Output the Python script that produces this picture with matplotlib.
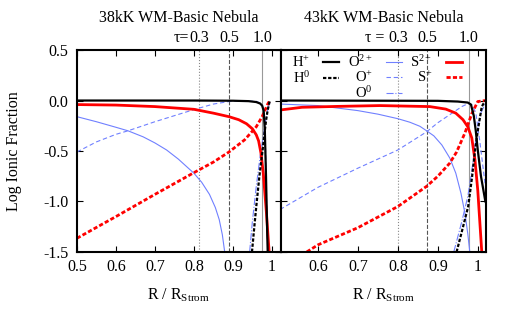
"""
Log ionic fraction profiles for two WM-Basic nebula models
"""
import matplotlib
matplotlib.use("Agg")
import matplotlib.pyplot as plt
from matplotlib.lines import Line2D

plt.rcParams['font.family'] = ['Liberation Serif', 'DejaVu Serif']
plt.rcParams['mathtext.fontset'] = 'custom'
plt.rcParams['mathtext.rm'] = 'Liberation Serif'
plt.rcParams['mathtext.it'] = 'Liberation Serif:italic'
plt.rcParams['font.size'] = 11.5

# ---- 38kK model ----
r38_hp = [0.5, 0.8, 0.9, 0.94, 0.96, 0.97, 0.975, 0.979, 0.982, 0.985, 0.988, 0.990]
f38_hp = [0.0, 0.0, -0.002, -0.006, -0.015, -0.03, -0.05, -0.1, -0.3, -0.75, -1.3, -1.6]
r38_h0 = [0.949, 0.955, 0.96, 0.968, 0.976, 0.981, 0.985, 0.989, 0.993, 0.995]
f38_h0 = [-1.5, -1.25, -1.05, -0.75, -0.5, -0.33, -0.2, -0.1, -0.03, 0.0]
r38_o2 = [0.5, 0.55, 0.6, 0.631, 0.67, 0.7, 0.73, 0.76, 0.78, 0.8, 0.82, 0.84,
          0.855, 0.865, 0.873, 0.879]
f38_o2 = [-0.16, -0.21, -0.265, -0.30, -0.36, -0.42, -0.49, -0.58, -0.65, -0.72,
          -0.81, -0.93, -1.06, -1.18, -1.33, -1.5]
r38_o1 = [0.5, 0.55, 0.6, 0.631, 0.7, 0.75, 0.8, 0.85, 0.89, 0.93, 0.96, 0.97,
          0.976, 0.98, 0.984, 0.987, 0.99]
f38_o1 = [-0.51, -0.41, -0.335, -0.30, -0.21, -0.15, -0.09, -0.035, -0.01, -0.004,
          -0.008, -0.025, -0.05, -0.15, -0.5, -1.1, -1.6]
r38_o0 = [0.943, 0.95, 0.96, 0.97, 0.978, 0.985, 0.99, 0.995]
f38_o0 = [-1.5, -1.2, -0.85, -0.55, -0.35, -0.18, -0.08, -0.02]
r38_s2 = [0.5, 0.6, 0.7, 0.8, 0.85, 0.89, 0.915, 0.935, 0.95, 0.96, 0.966, 0.972,
          0.978, 0.986, 0.993]
f38_s2 = [-0.04, -0.045, -0.06, -0.087, -0.125, -0.16, -0.19, -0.23, -0.28, -0.34,
          -0.40, -0.52, -0.72, -1.11, -1.5]
r38_s1 = [0.5, 0.6, 0.7, 0.8, 0.85, 0.89, 0.93, 0.96, 0.975, 0.99, 0.995]
f38_s1 = [-1.365, -1.15, -0.93, -0.715, -0.61, -0.51, -0.39, -0.26, -0.16, -0.03, 0.0]
tau38 = [0.813, 0.89, 0.975]

# ---- 43kK model ----
r43_hp = [0.505, 0.9, 0.95, 0.975, 0.983, 0.99, 0.995, 1.0, 1.008, 1.019]
f43_hp = [0.0, -0.003, -0.01, -0.02, -0.04, -0.15, -0.3, -0.49, -0.75, -1.0]
r43_h0 = [0.947, 0.96, 0.976, 0.985, 0.993, 1.0, 1.005, 1.01, 1.019]
f43_h0 = [-1.5, -1.3, -1.05, -0.78, -0.5, -0.3, -0.18, -0.06, 0.0]
r43_o2 = [0.505, 0.6, 0.7, 0.75, 0.8, 0.83, 0.855, 0.872, 0.89, 0.91, 0.93, 0.945,
          0.958, 0.968, 0.975, 0.98]
f43_o2 = [-0.035, -0.05, -0.1, -0.135, -0.18, -0.215, -0.255, -0.30, -0.35, -0.44,
          -0.57, -0.72, -0.92, -1.12, -1.32, -1.5]
r43_o1 = [0.505, 0.6, 0.7, 0.8, 0.872, 0.9, 0.93, 0.96, 0.976, 0.985, 0.995,
          1.005, 1.019]
f43_o1 = [-1.08, -0.86, -0.67, -0.49, -0.31, -0.22, -0.14, -0.06, -0.03, -0.04,
          -0.12, -0.4, -0.85]
r43_o0 = [0.94, 0.96, 0.975, 0.985, 0.993, 1.0, 1.008, 1.019]
f43_o0 = [-1.5, -1.2, -0.95, -0.7, -0.45, -0.27, -0.12, -0.03]
r43_s2 = [0.505, 0.56, 0.65, 0.755, 0.88, 0.92, 0.945, 0.963, 0.975, 0.985, 0.993,
          1.0, 1.01]
f43_s2 = [-0.094, -0.067, -0.058, -0.05, -0.06, -0.085, -0.125, -0.19, -0.26,
          -0.37, -0.59, -0.89, -1.5]
r43_s1 = [0.572, 0.6, 0.7, 0.8, 0.872, 0.9, 0.93, 0.947, 0.968, 0.985, 1.0, 1.019]
f43_s1 = [-1.5, -1.43, -1.26, -1.05, -0.85, -0.75, -0.62, -0.51, -0.32, -0.13,
          -0.01, 0.0]
tau43 = [0.8, 0.873, 0.977]

tau_labels = ['0.3', '0.5', '1.0']
titles = ['38kK WM-Basic Nebula', '43kK WM-Basic Nebula']

BLUE = '#7080ff'
RED = '#ff0000'


def draw_panel(ax, data, tau, xlim, xticks, tau_prefix, prefix_off):
    (rhp, fhp, rh0, fh0, ro2, fo2, ro1, fo1, ro0, fo0, rs2, fs2, rs1, fs1) = data
    for x, ls, c in zip(tau, [':', '--', '-'], ['#888888', '#555555', '#999999']):
        ax.axvline(x, color=c, ls=ls, lw=0.8, zorder=1)
    ax.plot(ro2, fo2, color=BLUE, lw=0.8, label=r'O$^{2+}$')
    ax.plot(ro1, fo1, color=BLUE, lw=0.8, dashes=(4, 2.5), label=r'O$^{+}$')
    ax.plot(ro0, fo0, color=BLUE, lw=0.8, ls='-.', label=r'O$^{0}$')
    ax.plot(rs2, fs2, color=RED, lw=2.0, label=r'S$^{2+}$')
    ax.plot(rs1, fs1, color=RED, lw=2.0, dashes=(1.5, 0.8), label=r'S$^{+}$')
    ax.plot(rhp, fhp, color='black', lw=1.6, label=r'H$^{+}$')
    ax.plot(rh0, fh0, color='black', lw=1.6, dashes=(1.5, 0.8), label=r'H$^{0}$')

    ax.set_xlim(*xlim)
    ax.set_ylim(-1.5, 0.5)
    ax.set_xticks(xticks, [('%.1f' % t).replace('1.0', '1') for t in xticks])
    ax.set_yticks([0.5, 0.0, -0.5, -1.0, -1.5],
                  ['0.5', '0.0', '-0.5', '-1.0', '-1.5'])
    ax.tick_params(direction='in', top=True, right=True, length=4, width=0.8)
    ax.tick_params(axis='x', pad=5)
    ax.tick_params(axis='y', pad=6)
    for s in ax.spines.values():
        s.set_linewidth(1.5)

    for x, lab in zip(tau, tau_labels):
        ax.annotate(lab, xy=(x, 1), xycoords=('data', 'axes fraction'),
                    xytext=(0, 3), textcoords='offset points',
                    ha='center', va='bottom')
    ax.annotate(tau_prefix, xy=(tau[0], 1), xycoords=('data', 'axes fraction'),
                xytext=(prefix_off, 3), textcoords='offset points',
                ha='right', va='bottom')
    ax.text(0.5, -48 / 202, r'R / R$_{\rm Strom}$', transform=ax.transAxes,
            ha='center', va='baseline')


def main():
    fig = plt.figure(figsize=(5.06, 3.11), dpi=100)
    ax1 = fig.add_axes([0.152, 0.190, 0.403, 0.649])
    ax2 = fig.add_axes([0.555, 0.190, 0.405, 0.649])

    draw_panel(ax1, (r38_hp, f38_hp, r38_h0, f38_h0, r38_o2, f38_o2, r38_o1, f38_o1,
                     r38_o0, f38_o0, r38_s2, f38_s2, r38_s1, f38_s1),
               tau38, (0.5, 1.023), [0.5, 0.6, 0.7, 0.8, 0.9, 1.0], 'τ=', -7)
    draw_panel(ax2, (r43_hp, f43_hp, r43_h0, f43_h0, r43_o2, f43_o2, r43_o1, f43_o1,
                     r43_o0, f43_o0, r43_s2, f43_s2, r43_s1, f43_s1),
               tau43, (0.507, 1.02), [0.6, 0.7, 0.8, 0.9, 1.0], 'τ =', -9.5)
    ax2.set_yticklabels([])

    for ax, t in zip([ax1, ax2], titles):
        ax.text(0.5, 1 + 32 / 202, t, transform=ax.transAxes,
                ha='center', va='center')
    ax1.text(-63 / 204, 0.5, 'Log Ionic Fraction', transform=ax1.transAxes,
             rotation=90, ha='center', va='center')

    # legend in gnuplot style: label first, three columns
    h = {l.get_label(): l for l in ax2.get_lines()}
    blank = Line2D([], [], color='none')
    order = [r'H$^{+}$', r'H$^{0}$', None, r'O$^{2+}$', r'O$^{+}$', r'O$^{0}$',
             r'S$^{2+}$', r'S$^{+}$', None]
    handles = [h[k] if k else blank for k in order]
    labels = [k if k else '' for k in order]
    ax2.legend(handles, labels, ncol=3, loc='upper left',
               bbox_to_anchor=(0.027, 1.01), fontsize=10.5,
               frameon=False, markerfirst=False, handlelength=1.1,
               handletextpad=0.9, columnspacing=0.6, labelspacing=0.0,
               borderaxespad=0.0)

    fig.savefig('out.png', dpi=100)


if __name__ == "__main__":
    main()
